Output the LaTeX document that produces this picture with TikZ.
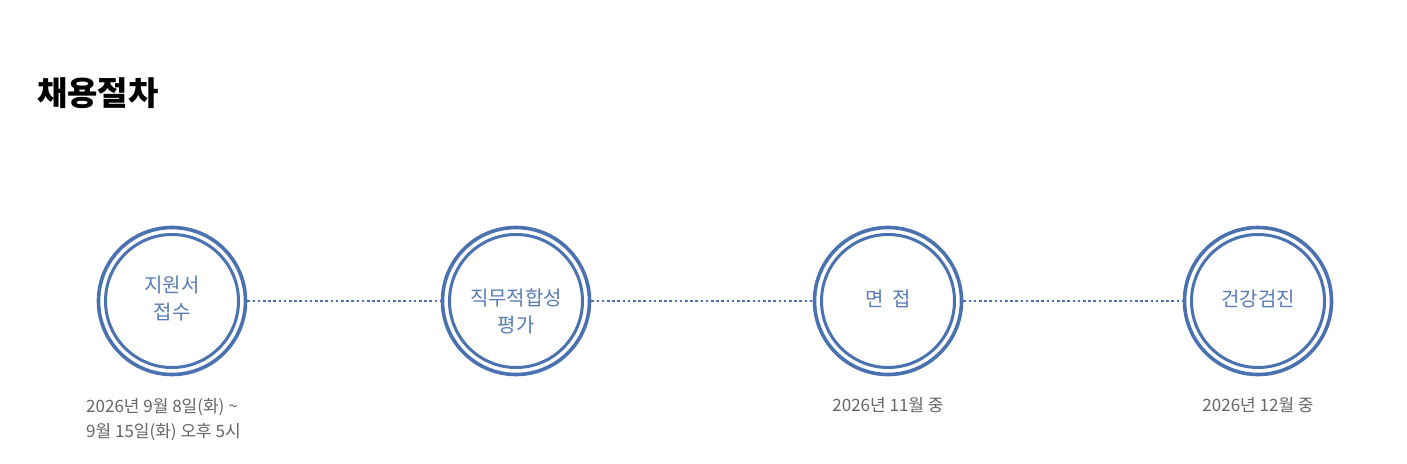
\documentclass[tikz,border=0pt]{standalone}
\usepackage{fontspec}
\setmainfont{Noto Sans CJK KR}
\begin{document}
\begin{tikzpicture}[x=1pt,y=-1pt,
  ring/.style={circle,draw=ringc,line width=3.6pt,minimum size=146pt,inner sep=0pt,
    font=\fontsize{20}{24}\selectfont,text=txtc,align=center,
    double=white,double distance=0pt},
  dots/.style={draw=ringc,line width=2.6pt,dash pattern=on 2.6pt off 2.6pt},
  date/.style={text=datec,font=\fontsize{17}{25}\selectfont,inner sep=0pt}]
\definecolor{ringc}{HTML}{4A72B0}
\definecolor{txtc}{HTML}{5A7DB5}
\definecolor{datec}{HTML}{666666}
\useasboundingbox (0,0) rectangle (1407,463);
\fill[white] (0,0) rectangle (1407,463);
\node[anchor=west,inner sep=0pt,font=\fontsize{33}{36}\bfseries\selectfont] (title) at (37,93) {채용절차};
\foreach \n/\x in {a/172,b/516,c/888,d/1258}{
  \node[circle,draw=ringc,line width=3.6pt,minimum size=147pt,inner sep=0pt] (\n) at (\x,301) {};
  \draw[ringc,line width=3pt] (\x,301) circle (66.5pt);
}
\node[text=txtc,font=\fontsize{20}{27}\selectfont,align=center] (ta) at (172,299) {지원서\\접수};
\node[text=txtc,font=\fontsize{20}{27}\selectfont,align=center] (tb) at (516,311) {직무적합성\\평가};
\node[text=txtc,font=\fontsize{20}{27}\selectfont] (tc) at (888,299) {면\ \ 접};
\node[text=txtc,font=\fontsize{20}{27}\selectfont] (td) at (1258,299) {건강검진};
\draw[dots] (a.east) -- (b.west);
\draw[dots] (b.east) -- (c.west);
\draw[dots] (c.east) -- (d.west);
\node[date,anchor=west,align=left] (da) at (86,420) {2026년 9월 8일(화) \textasciitilde\\9월 15일(화) 오후 5시};
\node[date] (dc) at (888,405) {2026년 11월 중};
\node[date] (dd) at (1258,405) {2026년 12월 중};
\end{tikzpicture}
\end{document}
